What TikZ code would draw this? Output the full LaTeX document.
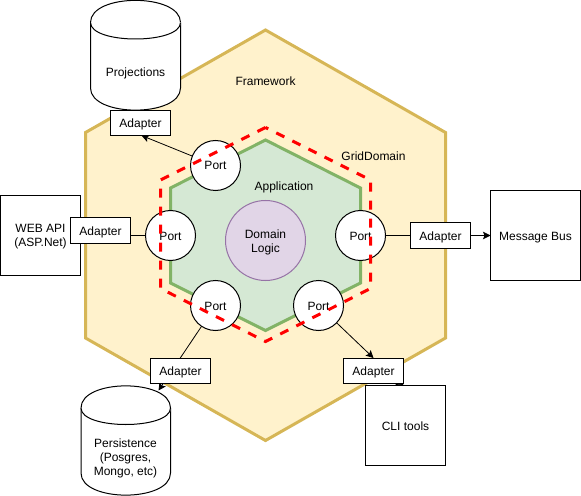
\documentclass[tikz,border=0pt]{standalone}
\usepackage{fontspec}
\setmainfont{Liberation Sans}
\usetikzlibrary{arrows.meta}
\pgfdeclarelayer{hexes}
\pgfdeclarelayer{conns}
\pgfsetlayers{hexes,conns,main}
\definecolor{fwfill}{HTML}{FFF2CC}
\definecolor{fwline}{HTML}{D6B656}
\definecolor{appfill}{HTML}{D5E8D4}
\definecolor{appline}{HTML}{82B366}
\definecolor{domfill}{HTML}{E1D5E7}
\definecolor{domline}{HTML}{9673A6}
\tikzset{
  every node/.style={font=\fontsize{12bp}{14bp}\selectfont,align=center,inner sep=0pt,outer sep=0pt},
  port/.style={circle,draw=black,fill=white,line width=1bp,minimum size=50bp},
  oneline/.style={text height=9bp,text depth=0bp},
  adapter/.style={rectangle,oneline,draw=black,fill=white,line width=1bp,minimum width=60bp,minimum height=25bp},
  sysbox/.style={rectangle,draw=black,fill=white,line width=1bp},
  conn/.style={draw=black,line width=0.8bp},
  arr/.style={conn,-{Stealth[length=7.5bp,width=7.5bp,inset=1.5bp]}},
  hexfw/.style={draw=fwline,fill=fwfill,line width=3bp,line join=miter},
  hexapp/.style={draw=appline,fill=appfill,line width=3bp,line join=miter},
  hexdash/.style={draw=red,line width=3bp,dash pattern=on 9bp off 9bp},
  cyl/.style={draw=black,fill=white,line width=1bp}
}
\begin{document}
\begin{tikzpicture}[x=1bp,y=-1bp]
\useasboundingbox (0,0) rectangle (581,496);
\begin{pgfonlayer}{hexes}
\path[hexfw] (265.5,30) -- (445.5,132.5) -- (445.5,338) -- (265.5,440.5) -- (85.5,338) -- (85.5,132.5) -- cycle;
\path[hexapp] (265.5,140) -- (360.5,188) -- (360.5,283) -- (265.5,330.5) -- (170.5,283) -- (170.5,188) -- cycle;
\end{pgfonlayer}
% domain
\node[circle,draw=domline,fill=domfill,line width=1bp,minimum size=80bp] (dom) at (265.5,240.5) {};
\node (domtext) at (265.5,242) {Domain\\Logic};
% labels
\node[oneline] (fw) at (265.5,81.5) {Framework};
\node[oneline] (gd) at (373.5,156) {GridDomain};
\node[oneline] (app) at (284,186) {Application};
% free connector ends
\coordinate (projtip) at (141.5,135.5);
\coordinate (perstip) at (158.5,390.5);
\coordinate (clitip) at (403.5,385);
% cylinders
\path[cyl] (90.5,22.5) .. controls (90.5,-7) and (180.5,-7) .. (180.5,22.5) -- (180.5,88)
  .. controls (180.5,117.5) and (90.5,117.5) .. (90.5,88) -- cycle;
\path[cyl] (90.5,22.5) .. controls (90.5,44.5) and (180.5,44.5) .. (180.5,22.5);
\node[oneline] (proj) at (135.5,72) {Projections};
\path[cyl] (81,408) .. controls (81,378.5) and (170.5,378.5) .. (170.5,408) -- (170.5,473)
  .. controls (170.5,502.5) and (81,502.5) .. (81,473) -- cycle;
\path[cyl] (81,408) .. controls (81,430) and (170.5,430) .. (170.5,408);
\node (pers) at (125.5,458) {Persistence\\(Posgres,\\Mongo, etc)};
% boxes
\node[sysbox,minimum width=80bp,minimum height=80bp] (web) at (40.5,235.5) {};
\node (webtext) at (40.5,237) {WEB API\\(ASP.Net)};
\node[sysbox,oneline,minimum width=90bp,minimum height=90bp] (bus) at (535.5,235.5) {Message Bus};
% ports
\node[port,oneline] (p1) at (215.5,165.5) {Port};
\node[port,oneline] (p2) at (170.5,235.5) {Port};
\node[port,oneline] (p3) at (360.5,235.5) {Port};
\node[port,oneline] (p4) at (215.5,305.5) {Port};
\node[port,oneline] (p5) at (318.5,305.5) {Port};
% adapters
\node[adapter] (a1) at (140.5,123) {Adapter};
\node[adapter] (a2) at (100.5,230.5) {Adapter};
\node[adapter] (a3) at (440.5,235.5) {Adapter};
\node[adapter] (a4) at (180.5,370.5) {Adapter};
\node[adapter] (a5) at (373.5,370.5) {Adapter};
\node[sysbox,oneline,minimum width=80bp,minimum height=80bp] (cli) at (405.5,425.5) {CLI tools};
% connectors
\begin{pgfonlayer}{conns}
\draw[arr] (p1) -- (projtip);
\draw[conn] (p2) -- (p2 -| a2.east);
\draw[conn] (p3) -- (a3);
\draw[arr] (a3.east) -- (bus.west);
\draw[arr] (p5) -- (a5.north);
\draw[arr] (p4) -- (perstip);
\draw[arr] (a5) -- (clitip);
\end{pgfonlayer}
% dashed hexagon, above the ports
\path[hexdash] (265.5,127.5) -- (160.5,180) -- (160.5,288.5) -- (265.5,341.5) -- (370.5,288.5) -- (370.5,180) -- cycle;
\end{tikzpicture}
\end{document}
